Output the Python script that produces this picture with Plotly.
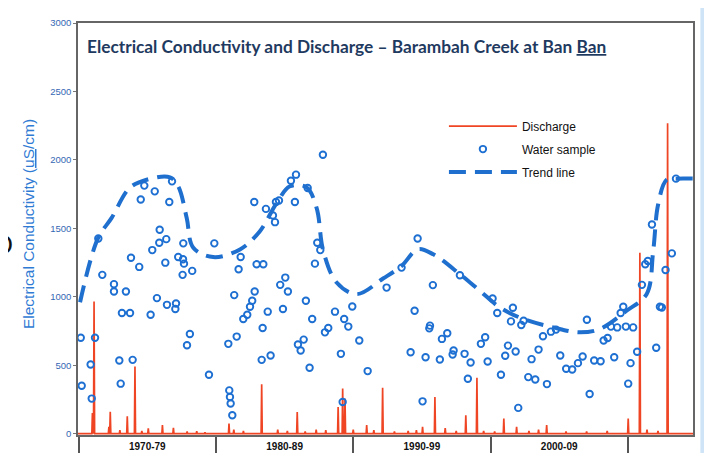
import plotly.graph_objects as go

# ---------------- data ----------------
decade_labels = ["1970-79", "1980-89", "1990-99", "2000-09"]
decade_mids = [1975, 1985, 1995, 2005]
decade_edges = [1970, 1980, 1990, 2000, 2010]
y_ticks = [0, 500, 1000, 1500, 2000, 2500, 3000]

sample_years = [
    1970.15, 1970.22, 1970.87, 1970.95, 1971.19, 1971.43, 1971.72, 1972.57, 1972.57, 1973.44,
    1973.15, 1973.74, 1972.96, 1973.06, 1973.93, 1973.81, 1974.41, 1974.52, 1974.78, 1975.54,
    1976.60, 1976.80, 1975.90, 1975.87, 1975.36, 1976.38, 1976.31, 1975.70, 1975.24, 1976.43,
    1977.09, 1977.04, 1977.25, 1977.62, 1977.60, 1977.67, 1977.57, 1978.27, 1978.10, 1977.89,
    1979.49, 1979.88, 1980.97, 1981.02, 1981.07, 1981.19, 1981.33, 1980.90, 1981.51, 1981.65,
    1981.80, 1981.99, 1982.28, 1982.48, 1982.64, 1982.82, 1982.79, 1982.96, 1983.45, 1983.33,
    1983.98, 1983.40, 1983.77, 1983.64, 1984.15, 1984.30, 1984.37, 1984.59, 1984.68, 1985.05,
    1985.24, 1984.88, 1985.46, 1985.83, 1985.75, 1985.97, 1986.17, 1986.39, 1986.82, 1986.55,
    1987.01, 1986.68, 1987.79, 1987.38, 1987.60, 1987.21, 1987.94, 1988.18, 1988.67, 1989.10,
    1989.23, 1989.34, 1989.64, 1989.93, 1990.44, 1991.05, 1992.43, 1993.52, 1994.69, 1995.80,
    1994.47, 1995.59, 1995.54, 1996.46, 1996.85, 1994.18, 1995.27, 1996.31, 1997.31, 1997.24,
    1998.11, 1998.55, 1998.35, 1995.05, 1997.77, 1999.30, 1999.61, 1999.79, 2000.15, 2000.49,
    2000.76, 2001.07, 2001.27, 2001.49, 2001.63, 2001.83, 2002.02, 2002.24, 2002.41, 2002.75,
    2002.99, 2003.26, 2003.50, 2003.82, 2004.11, 2004.40, 2004.77, 2005.08, 2005.51, 2005.95,
    2006.37, 2006.71, 2007.02, 2007.22, 2007.55, 2008.02, 2008.24, 2008.53, 2008.77, 2009.01,
    2009.23, 2009.48, 2009.67, 2009.86, 2010.20, 2010.03, 2010.39, 2010.68, 2011.03, 2011.27,
    2011.46, 2011.76, 2012.07, 2012.34, 2012.48, 2012.75, 2013.21, 2013.51,
]
sample_ec = [
    700, 350, 505, 256, 700, 1426, 1160, 1092, 1038, 1038,
    881, 881, 534, 365, 539, 1285, 1218, 1710, 1812, 1770,
    1692, 1843, 1489, 1394, 1341, 1421, 1249, 990, 869, 941,
    951, 910, 1290, 1390, 1274, 1242, 1160, 1189, 728, 646,
    430, 1390, 316, 268, 220, 134, 1012, 656, 709, 1201,
    1290, 838, 869, 927, 971, 1038, 1692, 1237, 1237, 539,
    571, 772, 891, 1642, 1594, 1545, 1692, 1703, 1087, 1140,
    1038, 910, 1848, 1892, 1692, 651, 607, 687, 481, 971,
    838, 1794, 2037, 1394, 1341, 1242, 740, 772, 891, 583,
    231, 838, 782, 929, 680, 457, 1067, 1213, 1426, 1085,
    898, 789, 769, 692, 733, 595, 558, 542, 607, 578,
    583, 520, 401, 236, 1157, 656, 704, 527, 987, 881,
    430, 569, 643, 820, 920, 600, 188, 794, 825, 413,
    544, 396, 614, 711, 362, 745, 760, 571, 474, 469,
    515, 563, 832, 289, 534, 529, 680, 699, 782, 558,
    776, 881, 927, 782, 515, 365, 776, 598, 1087, 1237,
    1261, 1528, 627, 927, 922, 1196, 1317, 1863,
]

trend_years = [
    1970.1, 1971.4, 1972.4, 1973.7, 1974.95, 1976.65, 1977.25, 1977.87, 1978.35, 1979.8,
    1981.75, 1983.2, 1984.42, 1985.39, 1986.6, 1987.33, 1987.82, 1988.79, 1990.25, 1992.2,
    1993.52, 1994.69, 1995.83, 1997.77, 1999.23, 2000.68, 2002.38, 2004.57, 2006.5, 2007.97,
    2009.91, 2011.37, 2011.85, 2012.21, 2012.83, 2013.55, 2014.76,
]
trend_ec = [
    960, 1426, 1576, 1794, 1855, 1872, 1807, 1576, 1358, 1290,
    1346, 1479, 1685, 1807, 1799, 1649, 1334, 1104, 1019, 1135,
    1225, 1346, 1310, 1165, 1043, 922, 838, 776, 740, 765,
    898, 1019, 1334, 1674, 1855, 1863, 1863,
]

discharge_years = [
    1971.0, 1971.12, 1972.2, 1972.3, 1973.0, 1973.54, 1974.1, 1974.6, 1975.07, 1976.1,
    1976.9, 1977.9, 1978.6, 1979.2, 1980.95, 1981.3, 1982.0, 1983.33, 1984.5, 1985.2,
    1985.92, 1986.5, 1987.3, 1988.0, 1988.9, 1989.23, 1989.4, 1990.0, 1990.98, 1991.5,
    1992.14, 1993.0, 1994.0, 1994.6, 1995.05, 1995.95, 1996.7, 1997.5, 1998.2, 1999.01,
    1999.5, 2000.3, 2000.97, 2001.9, 2002.8, 2003.5, 2004.09, 2005.5, 2007.0, 2008.5,
    2010.03, 2010.88, 2011.4, 2012.2, 2012.9,
]
discharge_peaks = [
    150, 965, 50, 160, 25, 127, 491, 20, 38, 62,
    42, 15, 18, 10, 74, 30, 20, 360, 30, 20,
    158, 15, 30, 25, 195, 329, 256, 30, 62, 25,
    336, 15, 20, 25, 50, 268, 40, 20, 134, 409,
    20, 15, 110, 50, 20, 30, 62, 15, 15, 20,
    110, 1322, 30, 20, 2267,
]

X_RANGE = [1969.95, 2014.75]

# build a spiky hydrograph line from the peaks (zero between events)
dis_x, dis_y = [X_RANGE[0]], [0]
for yr, v in zip(discharge_years, discharge_peaks):
    dis_x += [yr - 0.04, yr, yr + 0.04]
    dis_y += [0, v, 0]
dis_x.append(X_RANGE[1])
dis_y.append(0)

fig = go.Figure()

fig.add_trace(go.Scatter(
    x=dis_x, y=dis_y, mode="lines", name="Discharge", legendgroup="g1",
    line=dict(color="#ef4524", width=1.7), hoverinfo="skip",
))
fig.add_trace(go.Scatter(
    x=sample_years, y=sample_ec, mode="markers", name="Water sample", legendgroup="g2",
    marker=dict(symbol="circle-open", size=6.5, color="#1d6fd2",
                line=dict(width=1.9, color="#1d6fd2")),
))
fig.add_trace(go.Scatter(
    x=trend_years, y=trend_ec, mode="lines", name="Trend line", legendgroup="g3",
    line=dict(color="#1f6fcf", width=4, dash="17px,9px", shape="spline", smoothing=1.0),
))
# carrier for the decade-label axis
fig.add_trace(go.Scatter(
    x=decade_mids, y=[None] * len(decade_mids), xaxis="x2", mode="markers",
    showlegend=False, hoverinfo="skip",
))

fig.update_layout(
    width=712, height=453,
    # the page body adds an 8px offset; margins compensate so the plot box sits at 78..693 x 23..435
    margin=dict(l=70, r=27, t=15, b=26),
    paper_bgcolor="white", plot_bgcolor="white",
    font=dict(family="Liberation Sans, Arial, sans-serif", color="#111"),
    showlegend=True,
    legend=dict(
        x=0.595, y=0.785, xanchor="left", yanchor="top",
        bgcolor="rgba(255,255,255,0)", borderwidth=0,
        font=dict(size=12, color="#111"),
        itemwidth=68, tracegroupgap=4,
    ),
    xaxis=dict(
        range=X_RANGE, showgrid=False, zeroline=False, automargin=False,
        tickmode="array", tickvals=decade_edges, showticklabels=False,
        ticks="outside", ticklen=20, tickcolor="#555", tickwidth=1.5,
        showline=True, linecolor="#666", linewidth=1.5, mirror=True,
    ),
    xaxis2=dict(
        range=X_RANGE, overlaying="x", anchor="y", side="bottom", automargin=False,
        showgrid=False, zeroline=False, showline=False,
        tickmode="array", tickvals=decade_mids, ticktext=decade_labels,
        ticks="", ticklabelstandoff=4,
        tickfont=dict(size=10, color="#111", family="Liberation Sans, Arial, sans-serif",
                      weight="bold"),
    ),
    yaxis=dict(
        range=[-10, 3000], showgrid=False, zeroline=False, automargin=False,
        tickmode="array", tickvals=y_ticks,
        ticks="outside", ticklen=3, tickcolor="#777",
        tickfont=dict(size=9.5, color="#3468b4"),
        showline=True, linecolor="#666", linewidth=1.5, mirror=True,
    ),
    annotations=[
        dict(
            text="Electrical Conductivity and Discharge – Barambah Creek at Ban <u>Ban</u>",
            xref="paper", yref="paper", x=0.011, y=0.942, xanchor="left", yanchor="middle",
            showarrow=False,
            font=dict(family="Lato, Open Sans, sans-serif", size=17.3, color="#1f3a60",
                      weight="bold"),
        ),
        dict(
            text="Electrical Conductivity (<u>uS</u>/cm)",
            xref="paper", yref="paper", x=-0.0813, y=0.512, xanchor="center", yanchor="middle",
            textangle=-90, showarrow=False,
            font=dict(size=15.5, color="#2f7bd4"),
        ),
        dict(
            text="O", xref="paper", yref="paper", x=-0.1235, y=0.461,
            xanchor="center", yanchor="middle", showarrow=False,
            font=dict(size=27, color="#111"),
        ),
    ],
    shapes=[
        dict(type="rect", xref="paper", yref="paper", x0=1.012, x1=1.06, y0=-0.1, y1=1.1,
             fillcolor="#cfe5f7", line=dict(width=0), layer="above"),
    ],
)

fig.write_html("out.html")
